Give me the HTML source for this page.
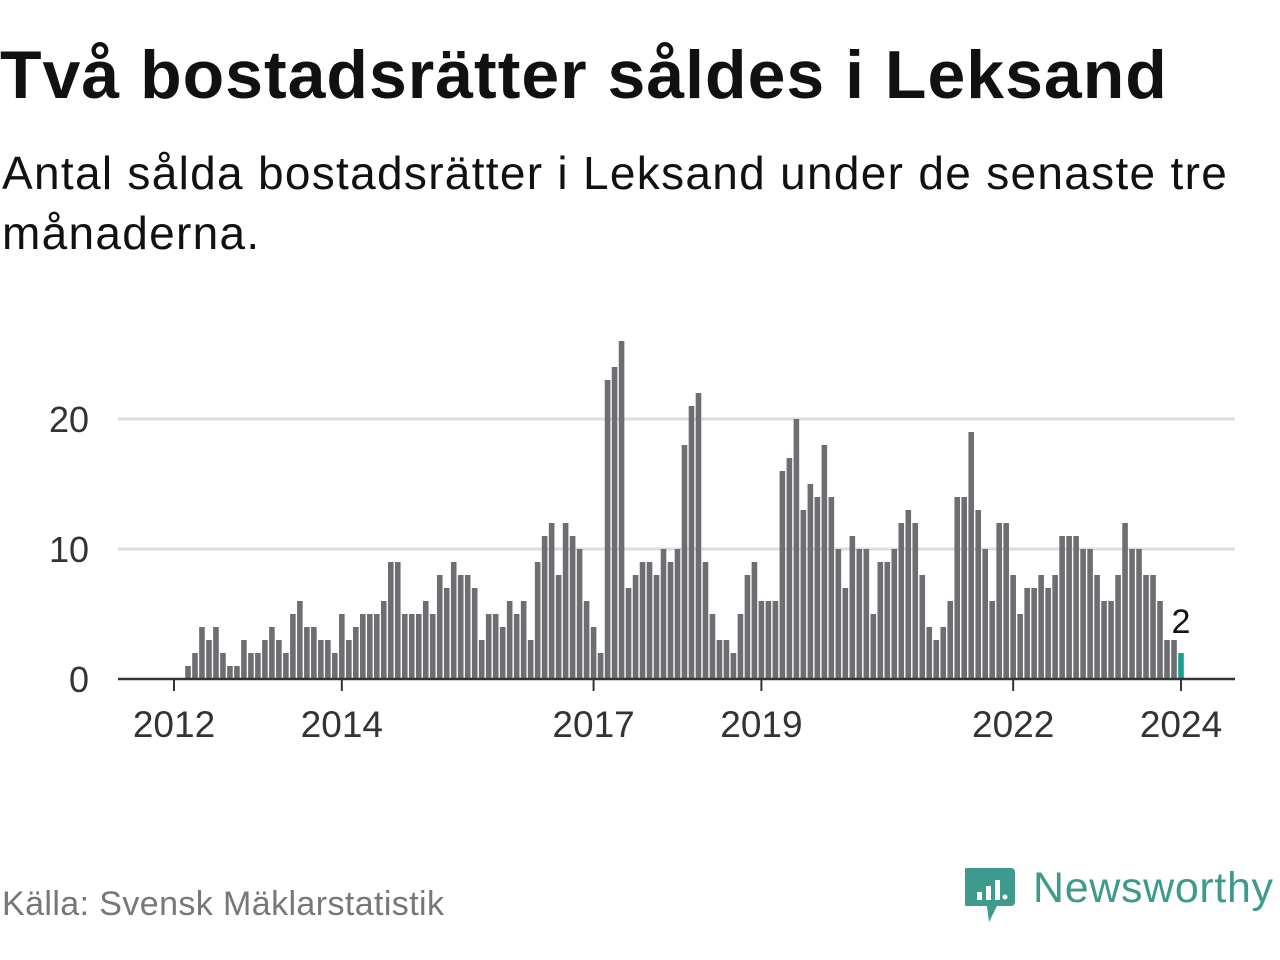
<!DOCTYPE html>
<html><head><meta charset="utf-8"><style>
body{margin:0;width:1280px;height:960px;background:#fff;font-family:"Liberation Sans",sans-serif;overflow:hidden;position:relative}
#title{position:absolute;left:0;top:36px;font-size:68px;font-weight:bold;color:#111;letter-spacing:1px;white-space:nowrap}
#sub{position:absolute;left:2px;top:143px;font-size:46px;line-height:60px;color:#111;width:1260px;letter-spacing:1.3px}
#src{position:absolute;left:2px;top:885px;font-size:34px;color:#777;letter-spacing:0.4px}
#logo{position:absolute;left:965px;top:864px}
</style></head><body>
<div id="title">Två bostadsrätter såldes i Leksand</div>
<div id="sub">Antal sålda bostadsrätter i Leksand under de senaste tre månaderna.</div>
<svg id="chart" width="1280" height="960" style="position:absolute;left:0;top:0"></svg>
<div id="src">Källa: Svensk Mäklarstatistik</div>
<svg id="logo" width="315" height="64">
<path d="M2 4 h44 a4 4 0 0 1 4 4 v30 a4 4 0 0 1 -4 4 h-14 l-8 16 l-2 -16 h-20 a4 4 0 0 1 -4 -4 v-30 a4 4 0 0 1 4 -4z" fill="#3d9a8c"/>
<rect x="12" y="28" width="5" height="8" fill="#fff"/><rect x="21" y="22" width="5" height="14" fill="#fff"/><rect x="30" y="16" width="5" height="20" fill="#fff"/><circle cx="40" cy="33" r="2.5" fill="#fff"/>
<text x="68" y="38" font-family="Liberation Sans" font-size="43" fill="#3d9a8c" textLength="240">Newsworthy</text>
</svg>
<script>
const values=[0,0,1,2,4,3,4,2,1,1,3,2,2,3,4,3,2,5,6,4,4,3,3,2,5,3,4,5,5,5,6,9,9,5,5,5,6,5,8,7,9,8,8,7,3,5,5,4,6,5,6,3,
9,11,12,8,12,11,10,6,4,2,23,24,26,7,8,9,9,8,10,9,10,18,21,22,9,5,3,3,2,5,8,9,6,6,6,16,17,20,13,15,14,18,14,10,7,11,10,10,5,
9,9,10,12,13,12,8,4,3,4,6,14,14,19,13,10,6,12,12,8,5,7,7,8,7,8,11,11,11,10,10,8,6,6,8,12,10,10,8,8,6,3,3,2];
const startYear=2012;
const xTickYears=[2012,2014,2017,2019,2022,2024];
const yTicks=[0,10,20];
const svg=document.getElementById('chart');const NS='http://www.w3.org/2000/svg';
const x0=174,x1=1181,y0=679,yPerUnit=13;
const months=(2024-2012)*12;
const xs=i=>x0+i*(x1-x0)/months;
const ys=v=>y0-v*yPerUnit;
function mk(t,a){const e=document.createElementNS(NS,t);for(const k in a)e.setAttribute(k,a[k]);svg.appendChild(e);return e;}
yTicks.forEach(t=>{
 if(t>0){const g=mk('line',{x1:118,x2:1235,y1:ys(t),y2:ys(t),stroke:'#dcdcdc','stroke-width':3});
 
 }
 const l=mk('text',{x:89,y:ys(t)+13,'text-anchor':'end','font-size':36,fill:'#333','font-family':'Liberation Sans'});
 l.textContent=t;
 
 
});
values.forEach((v,i)=>{
 if(v<=0)return;
 const last=i===values.length-1;
 const r=mk('rect',{x:xs(i)-2.8,y:ys(v),width:5.6,height:v*yPerUnit,fill:last?'#1a9e8f':'#6e6d72'});
 
 
});
const ax=mk('line',{x1:118,x2:1235,y1:y0,y2:y0,stroke:'#333','stroke-width':2.5});


xTickYears.forEach(yr=>{
 const x=xs((yr-startYear)*12);
 const tk=mk('line',{x1:x,x2:x,y1:y0,y2:y0+12,stroke:'#333','stroke-width':2});
 
 
 const t=mk('text',{x:x,y:737,'text-anchor':'middle','font-size':37,fill:'#333','font-family':'Liberation Sans'});
 t.textContent=yr;
 
 
});
const li=values.length-1;
const lb=mk('text',{x:xs(li),y:ys(values[li])-20,'text-anchor':'middle','font-size':34,fill:'#111','font-family':'Liberation Sans'});
lb.textContent=values[li];


</script>
</body></html>
